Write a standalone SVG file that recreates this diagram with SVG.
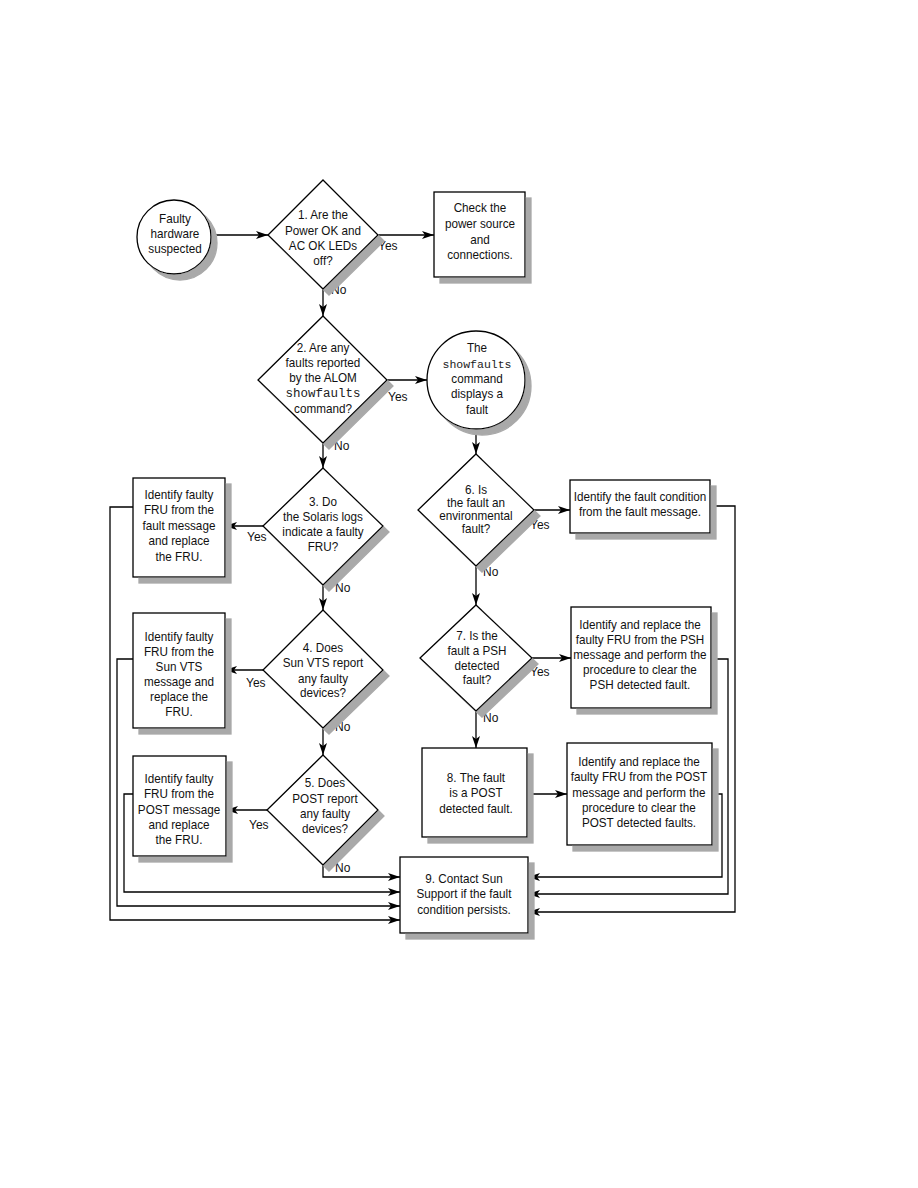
<svg xmlns="http://www.w3.org/2000/svg" width="918" height="1188" viewBox="0 0 918 1188">
<defs>
<filter id="sh" x="-20%" y="-20%" width="150%" height="150%">
<feGaussianBlur in="SourceAlpha" stdDeviation="0.7" result="b"/>
<feOffset in="b" dx="6" dy="6" result="o"/>
<feFlood flood-color="#a9a9a9"/>
<feComposite in2="o" operator="in" result="s"/>
<feMerge><feMergeNode in="s"/><feMergeNode in="SourceGraphic"/></feMerge>
</filter>
<marker id="ah" viewBox="0 0 12 8" refX="12" refY="4" markerWidth="12" markerHeight="8" markerUnits="userSpaceOnUse" orient="auto">
<path d="M0,0 L12,4 L0,8 L3,4 z" fill="#000"/>
</marker>
</defs>
<style>
.s{fill:#fff;stroke:#000;stroke-width:1.3;filter:url(#sh)}
.c{fill:none;stroke:#000;stroke-width:1.3}
.a{marker-end:url(#ah)}
text{font-family:"Liberation Sans",Arial,sans-serif;font-size:13px;fill:#111;text-anchor:middle;dominant-baseline:central}
.l{text-anchor:start;font-size:12px}
.m{font-family:"Liberation Mono","Courier New",monospace;font-size:12.5px;fill:#222}
</style>
<rect width="918" height="1188" fill="#fff"/>

<g id="connectors">
<path class="c a" d="M212,235 H268"/>
<path class="c a" d="M378,235 H434"/>
<path class="c a" d="M323,289 V316"/>
<path class="c a" d="M387,380 H427"/>
<path class="c a" d="M323,443 V468"/>
<path class="c a" d="M476,430 V454"/>
<path class="c a" d="M263,526 H225"/>
<path class="c a" d="M534,510 H570"/>
<path class="c a" d="M323,585 V610"/>
<path class="c a" d="M476,566 V605"/>
<path class="c a" d="M263,670 H225"/>
<path class="c a" d="M532,658 H571"/>
<path class="c a" d="M323,728 V755"/>
<path class="c a" d="M476,711 V748"/>
<path class="c a" d="M267,810 H226"/>
<path class="c a" d="M527,794 H567"/>
<path class="c a" d="M323,865 V877 H400"/>
<path class="c a" d="M133,794 H124 V892 H400"/>
<path class="c a" d="M133,659 H117 V906 H400"/>
<path class="c a" d="M133,507 H110 V920 H400"/>
<path class="c a" d="M712,794 H722 V877 H528"/>
<path class="c a" d="M711,659 H728 V894 H528"/>
<path class="c a" d="M710,506 H735 V912 H528"/>
<text class="l" x="378" y="246">Yes</text>
<text class="l" x="331" y="290">No</text>
<text class="l" x="388" y="397">Yes</text>
<text class="l" x="334" y="446">No</text>
<text class="l" x="247" y="537">Yes</text>
<text class="l" x="335" y="588">No</text>
<text class="l" x="246" y="683">Yes</text>
<text class="l" x="335" y="727">No</text>
<text class="l" x="249" y="825">Yes</text>
<text class="l" x="335" y="868">No</text>
<text class="l" x="530" y="525">Yes</text>
<text class="l" x="483" y="572">No</text>
<text class="l" x="530" y="672">Yes</text>
<text class="l" x="483" y="718">No</text>
</g>

<g id="start">
<circle class="s" cx="174" cy="237" r="37"/>
<g transform="matrix(0.9,0,0,1,17.5,0)">
<text x="175" y="219">Faulty</text>
<text x="175" y="234">hardware</text>
<text x="175" y="249">suspected</text>
</g>
</g>

<g id="q1">
<polygon class="s" points="323,180 378,235 323,289 268,235"/>
<g transform="matrix(0.9,0,0,1,32.3,0)">
<text x="323" y="215">1. Are the</text>
<text x="323" y="231">Power OK and</text>
<text x="323" y="246">AC OK LEDs</text>
<text x="323" y="261">off?</text>
</g>
</g>

<g id="checkpower">
<rect class="s" x="434" y="192" width="91" height="85"/>
<g transform="matrix(0.9,0,0,1,48,0)">
<text x="480" y="208">Check the</text>
<text x="480" y="224">power source</text>
<text x="480" y="240">and</text>
<text x="480" y="255">connections.</text>
</g>
</g>

<g id="q2">
<polygon class="s" points="323,316 387,380 323,443 258,380"/>
<g transform="matrix(0.9,0,0,1,32.3,0)">
<text x="323" y="348">2. Are any</text>
<text x="323" y="363">faults reported</text>
<text x="323" y="378">by the ALOM</text>
<text x="323" y="409">command?</text>
</g>
<text class="m" x="323" y="394">showfaults</text>
</g>

<g id="showfaults">
<circle class="s" cx="476" cy="380" r="49"/>
<g transform="matrix(0.9,0,0,1,47.7,0)">
<text x="477" y="348">The</text>
<text x="477" y="379">command</text>
<text x="477" y="394">displays a</text>
<text x="477" y="410">fault</text>
</g>
<text class="m" x="477" y="364" style="font-size:11.5px">showfaults</text>
</g>

<g id="q3">
<polygon class="s" points="323,468 383,526 323,585 263,526"/>
<g transform="matrix(0.9,0,0,1,32.3,0)">
<text x="323" y="502">3. Do</text>
<text x="323" y="517">the Solaris logs</text>
<text x="323" y="532">indicate a faulty</text>
<text x="323" y="547">FRU?</text>
</g>
</g>

<g id="fru3">
<rect class="s" x="133" y="478" width="92" height="99"/>
<g transform="matrix(0.9,0,0,1,17.9,0)">
<text x="179" y="495">Identify faulty</text>
<text x="179" y="510">FRU from the</text>
<text x="179" y="526">fault message</text>
<text x="179" y="541">and replace</text>
<text x="179" y="557">the FRU.</text>
</g>
</g>

<g id="q6">
<polygon class="s" points="476,454 534,510 476,566 418,510"/>
<g transform="matrix(0.9,0,0,1,47.6,0)">
<text x="476" y="490">6. Is</text>
<text x="476" y="503">the fault an</text>
<text x="476" y="516">environmental</text>
<text x="476" y="529">fault?</text>
</g>
</g>

<g id="env">
<rect class="s" x="570" y="480" width="140" height="53"/>
<g transform="matrix(0.9,0,0,1,64,0)">
<text x="640" y="497">Identify the fault condition</text>
<text x="640" y="512">from the fault message.</text>
</g>
</g>

<g id="q4">
<polygon class="s" points="323,610 383,670 323,728 263,670"/>
<g transform="matrix(0.9,0,0,1,32.3,0)">
<text x="323" y="648">4. Does</text>
<text x="323" y="663">Sun VTS report</text>
<text x="323" y="679">any faulty</text>
<text x="323" y="693">devices?</text>
</g>
</g>

<g id="fru4">
<rect class="s" x="133" y="613" width="92" height="115"/>
<g transform="matrix(0.9,0,0,1,17.9,0)">
<text x="179" y="637">Identify faulty</text>
<text x="179" y="652">FRU from the</text>
<text x="179" y="667">Sun VTS</text>
<text x="179" y="682">message and</text>
<text x="179" y="697">replace the</text>
<text x="179" y="712">FRU.</text>
</g>
</g>

<g id="q7">
<polygon class="s" points="476,605 532,658 476,711 420,658"/>
<g transform="matrix(0.9,0,0,1,47.7,0)">
<text x="477" y="636">7. Is the</text>
<text x="477" y="651">fault a PSH</text>
<text x="477" y="666">detected</text>
<text x="477" y="680">fault?</text>
</g>
</g>

<g id="psh">
<rect class="s" x="571" y="607" width="140" height="101"/>
<g transform="matrix(0.9,0,0,1,64,0)">
<text x="640" y="625">Identify and replace the</text>
<text x="640" y="640">faulty FRU from the PSH</text>
<text x="640" y="655">message and perform the</text>
<text x="640" y="670">procedure to clear the</text>
<text x="640" y="685">PSH detected fault.</text>
</g>
</g>

<g id="q5">
<polygon class="s" points="323,755 378,810 323,865 267,810"/>
<g transform="matrix(0.9,0,0,1,32.5,0)">
<text x="325" y="783">5. Does</text>
<text x="325" y="799">POST report</text>
<text x="325" y="814">any faulty</text>
<text x="325" y="829">devices?</text>
</g>
</g>

<g id="fru5">
<rect class="s" x="133" y="756" width="93" height="100"/>
<g transform="matrix(0.9,0,0,1,17.9,0)">
<text x="179" y="779">Identify faulty</text>
<text x="179" y="794">FRU from the</text>
<text x="179" y="810">POST message</text>
<text x="179" y="825">and replace</text>
<text x="179" y="840">the FRU.</text>
</g>
</g>

<g id="post8">
<rect class="s" x="422" y="748" width="105" height="89"/>
<g transform="matrix(0.9,0,0,1,47.6,0)">
<text x="476" y="778">8. The fault</text>
<text x="476" y="793">is a POST</text>
<text x="476" y="809">detected fault.</text>
</g>
</g>

<g id="postfix">
<rect class="s" x="567" y="743" width="145" height="102"/>
<g transform="matrix(0.9,0,0,1,63.9,0)">
<text x="639" y="762">Identify and replace the</text>
<text x="639" y="777">faulty FRU from the POST</text>
<text x="639" y="793">message and perform the</text>
<text x="639" y="808">procedure to clear the</text>
<text x="639" y="823">POST detected faults.</text>
</g>
</g>

<g id="contact">
<rect class="s" x="400" y="857" width="128" height="76"/>
<g transform="matrix(0.9,0,0,1,46.4,0)">
<text x="464" y="879">9. Contact Sun</text>
<text x="464" y="894">Support if the fault</text>
<text x="464" y="910">condition persists.</text>
</g>
</g>
</svg>
